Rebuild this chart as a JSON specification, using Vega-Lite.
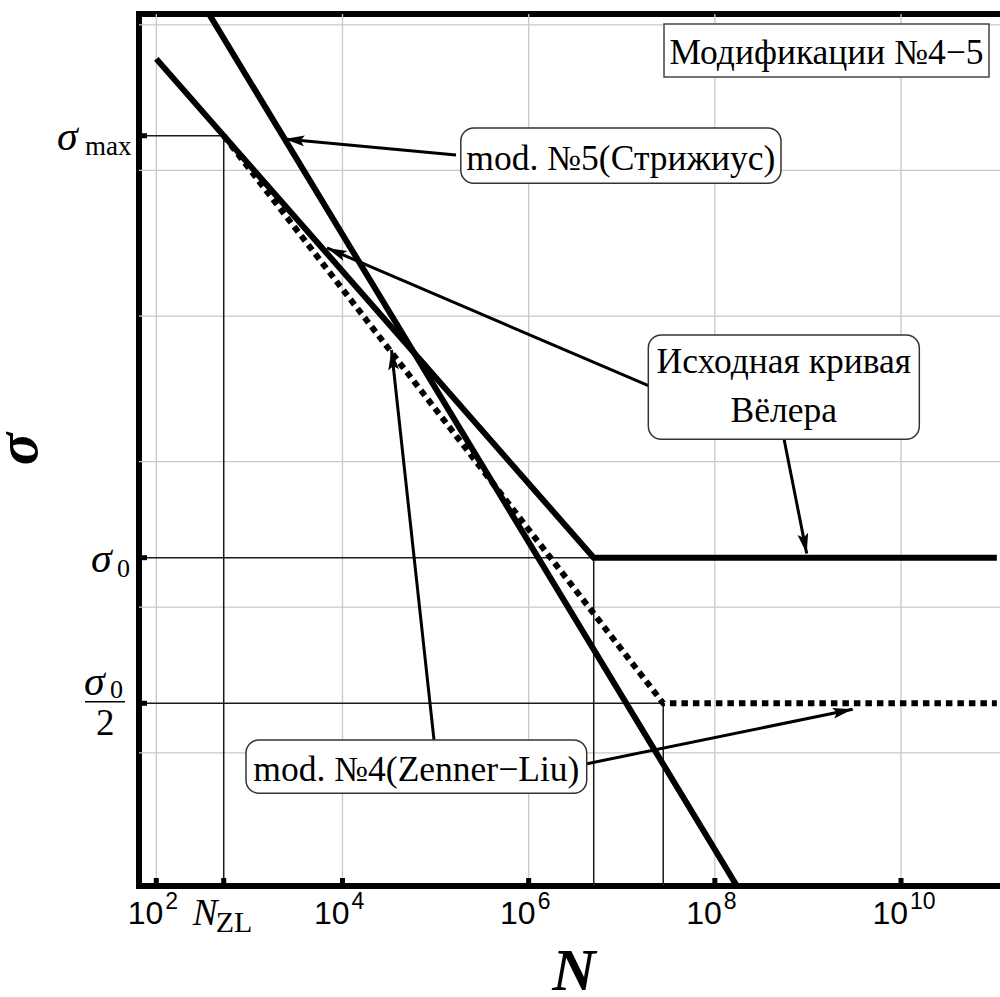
{
  "$schema": "https://vega.github.io/schema/vega-lite/v6.json",
  "width": 865,
  "height": 872,
  "autosize": {"type": "none"},
  "padding": {"left": 139, "top": 14, "right": 0, "bottom": 111},
  "background": "white",
  "config": {
    "view": {"stroke": "black", "strokeWidth": 6},
    "text": {"color": "black"}
  },
  "datasets": {
    "curves": [
      {"curve": "wohler", "order": 1, "N": 100, "sigma": 10.75},
      {"curve": "wohler", "order": 2, "N": 5000000, "sigma": 1},
      {"curve": "wohler", "order": 3, "N": 1.07e11, "sigma": 1},
      {"curve": "mod5", "order": 1, "N": 368, "sigma": 13.31},
      {"curve": "mod5", "order": 2, "N": 1.726e8, "sigma": 0.2095},
      {"curve": "zenner", "order": 1, "N": 530, "sigma": 7.455},
      {"curve": "zenner", "order": 2, "N": 2.79e7, "sigma": 0.5},
      {"curve": "zenner", "order": 3, "N": 1.07e11, "sigma": 0.5}
    ],
    "reflines": [
      {"N1": 65.19, "N2": 530, "s1": 7.455, "s2": 7.455},
      {"N1": 530, "N2": 530, "s1": 7.455, "s2": 0.2095},
      {"N1": 65.19, "N2": 5000000, "s1": 1, "s2": 1},
      {"N1": 5000000, "N2": 5000000, "s1": 1, "s2": 0.2095},
      {"N1": 65.19, "N2": 2.79e7, "s1": 0.5, "s2": 0.5},
      {"N1": 2.79e7, "N2": 2.79e7, "s1": 0.5, "s2": 0.2095}
    ],
    "xgrid": [{"N": 100}, {"N": 10000}, {"N": 1000000}, {"N": 100000000}, {"N": 10000000000}],
    "ygrid": [{"sigma": 0.395}, {"sigma": 0.79}, {"sigma": 1.58}, {"sigma": 3.16}, {"sigma": 6.32}, {"sigma": 12.64}],
    "xticks": [{"N": 100}, {"N": 530}, {"N": 10000}, {"N": 1000000}, {"N": 100000000}, {"N": 10000000000}],
    "yticks": [{"sigma": 0.5}, {"sigma": 1}, {"sigma": 7.455}],
    "titles": [
      {"axis": "x", "text": "N", "N": 3.069e6, "sigma": 0.2095},
      {"axis": "y", "text": "σ", "N": 65.19, "sigma": 1.678}
    ],
    "boxes": [
      {"id": "A", "text": "Модификации №4−5", "N1": 2.844e7, "N2": 8.81e10, "s1": 9.86, "s2": 12.69, "Nc": 1.583e9, "sc": 11.19},
      {"id": "B", "text": "mod. №5(Стрижиус)", "N1": 1.866e5, "N2": 5.136e8, "s1": 5.943, "s2": 7.739, "Nc": 9.79e6, "sc": 6.782},
      {"id": "C", "text": "Исходная кривая\nВёлера", "N1": 1.929e7, "N2": 1.572e10, "s1": 1.757, "s2": 2.887, "Nc": 5.505e8, "sc": 2.252},
      {"id": "D", "text": "mod. №4(Zenner−Liu)", "N1": 919.5, "N2": 4.203e6, "s1": 0.3258, "s2": 0.4199, "Nc": 6.217e4, "sc": 0.3698}
    ],
    "arrows": [
      {"id": "a1", "N1": 1.658e5, "s1": 6.801, "N2": 2383, "s2": 7.34},
      {"id": "a2", "N1": 1.962e7, "s1": 2.265, "N2": 6818, "s2": 4.369},
      {"id": "a3", "N1": 5.533e8, "s1": 1.76, "N2": 9.701e8, "s2": 1.02},
      {"id": "a4", "N1": 9.618e4, "s1": 0.4199, "N2": 3.361e4, "s2": 2.688},
      {"id": "a5", "N1": 4.233e6, "s1": 0.375, "N2": 3.027e9, "s2": 0.4859}
    ],
    "xlabels": [
      {"N": 100, "base": "10", "exp": "2"},
      {"N": 10000, "base": "10", "exp": "4"},
      {"N": 1000000, "base": "10", "exp": "6"},
      {"N": 100000000, "base": "10", "exp": "8"},
      {"N": 10000000000, "base": "10", "exp": "10"}
    ],
    "nzl": [{"N": 530, "sym": "N", "sub": "ZL"}],
    "ylabels": [
      {"key": "max", "sigma": 7.455, "sym": "σ", "sub": "max"},
      {"key": "zero", "sigma": 1, "sym": "σ", "sub": "0"},
      {"key": "half", "sigma": 0.5, "sym": "σ", "sub": "0", "den": "2"}
    ]
  },
  "layer": [
    {
      "data": {"name": "xgrid"},
      "mark": {"type": "rule", "color": "#c8c8c8", "strokeWidth": 1.3},
      "encoding": {
        "x": {"field": "N", "type": "quantitative", "scale": {"type": "log", "domain": [65.19, 1.277e11], "nice": false}, "axis": null}
      }
    },
    {
      "data": {"name": "ygrid"},
      "mark": {"type": "rule", "color": "#c8c8c8", "strokeWidth": 1.3},
      "encoding": {
        "y": {"field": "sigma", "type": "quantitative", "scale": {"type": "log", "domain": [0.2095, 13.31], "nice": false}, "axis": null}
      }
    },
    {
      "data": {"name": "reflines"},
      "mark": {"type": "rule", "color": "#1a1a1a", "strokeWidth": 1.5},
      "encoding": {
        "x": {"field": "N1", "type": "quantitative", "scale": {"type": "log", "domain": [65.19, 1.277e11], "nice": false}, "axis": null},
        "x2": {"field": "N2"},
        "y": {"field": "s1", "type": "quantitative", "scale": {"type": "log", "domain": [0.2095, 13.31], "nice": false}, "axis": null},
        "y2": {"field": "s2"}
      }
    },
    {
      "data": {"name": "curves"},
      "transform": [{"filter": "datum.curve === 'wohler'"}],
      "mark": {"type": "line", "color": "black", "strokeWidth": 6, "clip": true},
      "encoding": {
        "x": {"field": "N", "type": "quantitative", "scale": {"type": "log", "domain": [65.19, 1.277e11], "nice": false}, "axis": null},
        "y": {"field": "sigma", "type": "quantitative", "scale": {"type": "log", "domain": [0.2095, 13.31], "nice": false}, "axis": null},
        "order": {"field": "order"}
      }
    },
    {
      "data": {"name": "curves"},
      "transform": [{"filter": "datum.curve === 'mod5'"}],
      "mark": {"type": "line", "color": "black", "strokeWidth": 6, "clip": true},
      "encoding": {
        "x": {"field": "N", "type": "quantitative", "scale": {"type": "log", "domain": [65.19, 1.277e11], "nice": false}, "axis": null},
        "y": {"field": "sigma", "type": "quantitative", "scale": {"type": "log", "domain": [0.2095, 13.31], "nice": false}, "axis": null},
        "order": {"field": "order"}
      }
    },
    {
      "data": {"name": "curves"},
      "transform": [{"filter": "datum.curve === 'zenner'"}],
      "mark": {"type": "line", "color": "black", "strokeWidth": 6, "strokeDash": [6.5, 5], "clip": true},
      "encoding": {
        "x": {"field": "N", "type": "quantitative", "scale": {"type": "log", "domain": [65.19, 1.277e11], "nice": false}, "axis": null},
        "y": {"field": "sigma", "type": "quantitative", "scale": {"type": "log", "domain": [0.2095, 13.31], "nice": false}, "axis": null},
        "order": {"field": "order"}
      }
    },
    {
      "data": {"name": "xticks"},
      "mark": {"type": "rule", "color": "black", "strokeWidth": 5, "y2Offset": -8},
      "encoding": {
        "x": {"field": "N", "type": "quantitative", "scale": {"type": "log", "domain": [65.19, 1.277e11], "nice": false}, "axis": null},
        "y": {"datum": 0.2095, "type": "quantitative", "scale": {"type": "log", "domain": [0.2095, 13.31], "nice": false}, "axis": null},
        "y2": {"datum": 0.2095}
      }
    },
    {
      "data": {"name": "yticks"},
      "mark": {"type": "rule", "color": "black", "strokeWidth": 5, "x2Offset": 8},
      "encoding": {
        "x": {"datum": 65.19, "type": "quantitative", "scale": {"type": "log", "domain": [65.19, 1.277e11], "nice": false}, "axis": null},
        "x2": {"datum": 65.19},
        "y": {"field": "sigma", "type": "quantitative", "scale": {"type": "log", "domain": [0.2095, 13.31], "nice": false}, "axis": null}
      }
    },
    {
      "data": {"name": "arrows"},
      "mark": {"type": "rule", "color": "black", "strokeWidth": 3},
      "encoding": {
        "x": {"field": "N1", "type": "quantitative", "scale": {"type": "log", "domain": [65.19, 1.277e11], "nice": false}, "axis": null},
        "x2": {"field": "N2"},
        "y": {"field": "s1", "type": "quantitative", "scale": {"type": "log", "domain": [0.2095, 13.31], "nice": false}, "axis": null},
        "y2": {"field": "s2"}
      }
    },
    {
      "data": {"name": "boxes"},
      "transform": [{"filter": "datum.id === 'A'"}],
      "mark": {"type": "rect", "fill": "white", "stroke": "#444444", "strokeWidth": 1.5},
      "encoding": {
        "x": {"field": "N1", "type": "quantitative", "scale": {"type": "log", "domain": [65.19, 1.277e11], "nice": false}, "axis": null},
        "x2": {"field": "N2"},
        "y": {"field": "s1", "type": "quantitative", "scale": {"type": "log", "domain": [0.2095, 13.31], "nice": false}, "axis": null},
        "y2": {"field": "s2"}
      }
    },
    {
      "data": {"name": "boxes"},
      "transform": [{"filter": "datum.id !== 'A'"}],
      "mark": {"type": "rect", "fill": "white", "stroke": "#333333", "strokeWidth": 1.5, "cornerRadius": 13},
      "encoding": {
        "x": {"field": "N1", "type": "quantitative", "scale": {"type": "log", "domain": [65.19, 1.277e11], "nice": false}, "axis": null},
        "x2": {"field": "N2"},
        "y": {"field": "s1", "type": "quantitative", "scale": {"type": "log", "domain": [0.2095, 13.31], "nice": false}, "axis": null},
        "y2": {"field": "s2"}
      }
    },
    {
      "data": {"name": "boxes"},
      "transform": [{"filter": "datum.id !== 'C'"}],
      "mark": {"type": "text", "font": "Liberation Serif", "fontSize": 35.5, "align": "center", "baseline": "middle", "dy": 3, "color": "black"},
      "encoding": {
        "x": {"field": "Nc", "type": "quantitative", "scale": {"type": "log", "domain": [65.19, 1.277e11], "nice": false}, "axis": null},
        "y": {"field": "sc", "type": "quantitative", "scale": {"type": "log", "domain": [0.2095, 13.31], "nice": false}, "axis": null},
        "text": {"field": "text", "type": "nominal"}
      }
    },
    {
      "data": {"name": "boxes"},
      "transform": [{"filter": "datum.id === 'C'"}],
      "mark": {"type": "text", "font": "Liberation Serif", "fontSize": 35.5, "align": "center", "baseline": "alphabetic", "dy": -14, "lineBreak": "\n", "lineHeight": 48.7, "color": "black"},
      "encoding": {
        "x": {"field": "Nc", "type": "quantitative", "scale": {"type": "log", "domain": [65.19, 1.277e11], "nice": false}, "axis": null},
        "y": {"field": "sc", "type": "quantitative", "scale": {"type": "log", "domain": [0.2095, 13.31], "nice": false}, "axis": null},
        "text": {"field": "text", "type": "nominal"}
      }
    },
    {
      "data": {"name": "arrows"},
      "transform": [{"filter": "datum.id === 'a1'"}],
      "mark": {"type": "point", "shape": "M0,0L0.27,1L0,0.8L-0.27,1Z", "size": 1600, "filled": true, "color": "black", "opacity": 1, "strokeWidth": 0, "angle": -84.67},
      "encoding": {
        "x": {"field": "N2", "type": "quantitative", "scale": {"type": "log", "domain": [65.19, 1.277e11], "nice": false}, "axis": null},
        "y": {"field": "s2", "type": "quantitative", "scale": {"type": "log", "domain": [0.2095, 13.31], "nice": false}, "axis": null}
      }
    },
    {
      "data": {"name": "arrows"},
      "transform": [{"filter": "datum.id === 'a2'"}],
      "mark": {"type": "point", "shape": "M0,0L0.27,1L0,0.8L-0.27,1Z", "size": 1600, "filled": true, "color": "black", "opacity": 1, "strokeWidth": 0, "angle": -66.8},
      "encoding": {
        "x": {"field": "N2", "type": "quantitative", "scale": {"type": "log", "domain": [65.19, 1.277e11], "nice": false}, "axis": null},
        "y": {"field": "s2", "type": "quantitative", "scale": {"type": "log", "domain": [0.2095, 13.31], "nice": false}, "axis": null}
      }
    },
    {
      "data": {"name": "arrows"},
      "transform": [{"filter": "datum.id === 'a3'"}],
      "mark": {"type": "point", "shape": "M0,0L0.27,1L0,0.8L-0.27,1Z", "size": 1600, "filled": true, "color": "black", "opacity": 1, "strokeWidth": 0, "angle": 168.8},
      "encoding": {
        "x": {"field": "N2", "type": "quantitative", "scale": {"type": "log", "domain": [65.19, 1.277e11], "nice": false}, "axis": null},
        "y": {"field": "s2", "type": "quantitative", "scale": {"type": "log", "domain": [0.2095, 13.31], "nice": false}, "axis": null}
      }
    },
    {
      "data": {"name": "arrows"},
      "transform": [{"filter": "datum.id === 'a4'"}],
      "mark": {"type": "point", "shape": "M0,0L0.27,1L0,0.8L-0.27,1Z", "size": 1600, "filled": true, "color": "black", "opacity": 1, "strokeWidth": 0, "angle": -6.22},
      "encoding": {
        "x": {"field": "N2", "type": "quantitative", "scale": {"type": "log", "domain": [65.19, 1.277e11], "nice": false}, "axis": null},
        "y": {"field": "s2", "type": "quantitative", "scale": {"type": "log", "domain": [0.2095, 13.31], "nice": false}, "axis": null}
      }
    },
    {
      "data": {"name": "arrows"},
      "transform": [{"filter": "datum.id === 'a5'"}],
      "mark": {"type": "point", "shape": "M0,0L0.27,1L0,0.8L-0.27,1Z", "size": 1600, "filled": true, "color": "black", "opacity": 1, "strokeWidth": 0, "angle": 78.43},
      "encoding": {
        "x": {"field": "N2", "type": "quantitative", "scale": {"type": "log", "domain": [65.19, 1.277e11], "nice": false}, "axis": null},
        "y": {"field": "s2", "type": "quantitative", "scale": {"type": "log", "domain": [0.2095, 13.31], "nice": false}, "axis": null}
      }
    },
    {
      "data": {"name": "titles"},
      "transform": [{"filter": "datum.axis === 'x'"}],
      "mark": {"type": "text", "font": "Liberation Serif", "fontSize": 60, "fontWeight": "bold", "fontStyle": "italic", "align": "center", "baseline": "alphabetic", "yOffset": 104, "color": "black"},
      "encoding": {
        "x": {"field": "N", "type": "quantitative", "scale": {"type": "log", "domain": [65.19, 1.277e11], "nice": false}, "axis": null},
        "y": {"field": "sigma", "type": "quantitative", "scale": {"type": "log", "domain": [0.2095, 13.31], "nice": false}, "axis": null},
        "text": {"field": "text", "type": "nominal"}
      }
    },
    {
      "data": {"name": "titles"},
      "transform": [{"filter": "datum.axis === 'y'"}],
      "mark": {"type": "text", "font": "Liberation Serif", "fontSize": 60, "fontWeight": "bold", "fontStyle": "italic", "align": "center", "baseline": "middle", "angle": -90, "xOffset": -120, "color": "black"},
      "encoding": {
        "x": {"field": "N", "type": "quantitative", "scale": {"type": "log", "domain": [65.19, 1.277e11], "nice": false}, "axis": null},
        "y": {"field": "sigma", "type": "quantitative", "scale": {"type": "log", "domain": [0.2095, 13.31], "nice": false}, "axis": null},
        "text": {"field": "text", "type": "nominal"}
      }
    },
    {
      "data": {"name": "xlabels"},
      "mark": {"type": "text", "font": "Liberation Sans", "fontSize": 32, "align": "right", "baseline": "alphabetic", "dx": 7, "dy": 38, "color": "black"},
      "encoding": {
        "x": {"field": "N", "type": "quantitative", "scale": {"type": "log", "domain": [65.19, 1.277e11], "nice": false}, "axis": null},
        "y": {"datum": 0.2095, "type": "quantitative", "scale": {"type": "log", "domain": [0.2095, 13.31], "nice": false}, "axis": null},
        "text": {"field": "base", "type": "nominal"}
      }
    },
    {
      "data": {"name": "xlabels"},
      "mark": {"type": "text", "font": "Liberation Sans", "fontSize": 23, "align": "left", "baseline": "alphabetic", "dx": 9, "dy": 23, "color": "black"},
      "encoding": {
        "x": {"field": "N", "type": "quantitative", "scale": {"type": "log", "domain": [65.19, 1.277e11], "nice": false}, "axis": null},
        "y": {"datum": 0.2095, "type": "quantitative", "scale": {"type": "log", "domain": [0.2095, 13.31], "nice": false}, "axis": null},
        "text": {"field": "exp", "type": "nominal"}
      }
    },
    {
      "data": {"name": "nzl"},
      "mark": {"type": "text", "font": "Liberation Serif", "fontSize": 37, "fontStyle": "italic", "align": "left", "baseline": "alphabetic", "dx": -31, "dy": 39, "color": "black"},
      "encoding": {
        "x": {"field": "N", "type": "quantitative", "scale": {"type": "log", "domain": [65.19, 1.277e11], "nice": false}, "axis": null},
        "y": {"datum": 0.2095, "type": "quantitative", "scale": {"type": "log", "domain": [0.2095, 13.31], "nice": false}, "axis": null},
        "text": {"field": "sym", "type": "nominal"}
      }
    },
    {
      "data": {"name": "nzl"},
      "mark": {"type": "text", "font": "Liberation Serif", "fontSize": 30, "align": "left", "baseline": "alphabetic", "dx": -8, "dy": 46, "color": "black"},
      "encoding": {
        "x": {"field": "N", "type": "quantitative", "scale": {"type": "log", "domain": [65.19, 1.277e11], "nice": false}, "axis": null},
        "y": {"datum": 0.2095, "type": "quantitative", "scale": {"type": "log", "domain": [0.2095, 13.31], "nice": false}, "axis": null},
        "text": {"field": "sub", "type": "nominal"}
      }
    },
    {
      "data": {"name": "ylabels"},
      "transform": [{"filter": "datum.key === 'max'"}],
      "mark": {"type": "text", "font": "Liberation Serif", "fontSize": 42, "fontStyle": "italic", "align": "left", "baseline": "alphabetic", "dx": -82, "dy": 14, "color": "black"},
      "encoding": {
        "x": {"datum": 65.19, "type": "quantitative", "scale": {"type": "log", "domain": [65.19, 1.277e11], "nice": false}, "axis": null},
        "y": {"field": "sigma", "type": "quantitative", "scale": {"type": "log", "domain": [0.2095, 13.31], "nice": false}, "axis": null},
        "text": {"field": "sym", "type": "nominal"}
      }
    },
    {
      "data": {"name": "ylabels"},
      "transform": [{"filter": "datum.key === 'max'"}],
      "mark": {"type": "text", "font": "Liberation Serif", "fontSize": 27, "align": "left", "baseline": "alphabetic", "dx": -54, "dy": 19, "color": "black"},
      "encoding": {
        "x": {"datum": 65.19, "type": "quantitative", "scale": {"type": "log", "domain": [65.19, 1.277e11], "nice": false}, "axis": null},
        "y": {"field": "sigma", "type": "quantitative", "scale": {"type": "log", "domain": [0.2095, 13.31], "nice": false}, "axis": null},
        "text": {"field": "sub", "type": "nominal"}
      }
    },
    {
      "data": {"name": "ylabels"},
      "transform": [{"filter": "datum.key === 'zero'"}],
      "mark": {"type": "text", "font": "Liberation Serif", "fontSize": 42, "fontStyle": "italic", "align": "left", "baseline": "alphabetic", "dx": -48, "dy": 14, "color": "black"},
      "encoding": {
        "x": {"datum": 65.19, "type": "quantitative", "scale": {"type": "log", "domain": [65.19, 1.277e11], "nice": false}, "axis": null},
        "y": {"field": "sigma", "type": "quantitative", "scale": {"type": "log", "domain": [0.2095, 13.31], "nice": false}, "axis": null},
        "text": {"field": "sym", "type": "nominal"}
      }
    },
    {
      "data": {"name": "ylabels"},
      "transform": [{"filter": "datum.key === 'zero'"}],
      "mark": {"type": "text", "font": "Liberation Serif", "fontSize": 26, "align": "left", "baseline": "alphabetic", "dx": -22, "dy": 19, "color": "black"},
      "encoding": {
        "x": {"datum": 65.19, "type": "quantitative", "scale": {"type": "log", "domain": [65.19, 1.277e11], "nice": false}, "axis": null},
        "y": {"field": "sigma", "type": "quantitative", "scale": {"type": "log", "domain": [0.2095, 13.31], "nice": false}, "axis": null},
        "text": {"field": "sub", "type": "nominal"}
      }
    },
    {
      "data": {"name": "ylabels"},
      "transform": [{"filter": "datum.key === 'half'"}],
      "mark": {"type": "text", "font": "Liberation Serif", "fontSize": 42, "fontStyle": "italic", "align": "left", "baseline": "alphabetic", "dx": -55, "dy": -8, "color": "black"},
      "encoding": {
        "x": {"datum": 65.19, "type": "quantitative", "scale": {"type": "log", "domain": [65.19, 1.277e11], "nice": false}, "axis": null},
        "y": {"field": "sigma", "type": "quantitative", "scale": {"type": "log", "domain": [0.2095, 13.31], "nice": false}, "axis": null},
        "text": {"field": "sym", "type": "nominal"}
      }
    },
    {
      "data": {"name": "ylabels"},
      "transform": [{"filter": "datum.key === 'half'"}],
      "mark": {"type": "text", "font": "Liberation Serif", "fontSize": 26, "align": "left", "baseline": "alphabetic", "dx": -29, "dy": -5, "color": "black"},
      "encoding": {
        "x": {"datum": 65.19, "type": "quantitative", "scale": {"type": "log", "domain": [65.19, 1.277e11], "nice": false}, "axis": null},
        "y": {"field": "sigma", "type": "quantitative", "scale": {"type": "log", "domain": [0.2095, 13.31], "nice": false}, "axis": null},
        "text": {"field": "sub", "type": "nominal"}
      }
    },
    {
      "data": {"name": "ylabels"},
      "transform": [{"filter": "datum.key === 'half'"}],
      "mark": {"type": "rule", "color": "black", "strokeWidth": 1.5, "xOffset": -54, "x2Offset": -14, "yOffset": -1.6},
      "encoding": {
        "x": {"datum": 65.19, "type": "quantitative", "scale": {"type": "log", "domain": [65.19, 1.277e11], "nice": false}, "axis": null},
        "x2": {"datum": 65.19},
        "y": {"field": "sigma", "type": "quantitative", "scale": {"type": "log", "domain": [0.2095, 13.31], "nice": false}, "axis": null}
      }
    },
    {
      "data": {"name": "ylabels"},
      "transform": [{"filter": "datum.key === 'half'"}],
      "mark": {"type": "text", "font": "Liberation Serif", "fontSize": 37, "align": "left", "baseline": "alphabetic", "dx": -43, "dy": 32, "color": "black"},
      "encoding": {
        "x": {"datum": 65.19, "type": "quantitative", "scale": {"type": "log", "domain": [65.19, 1.277e11], "nice": false}, "axis": null},
        "y": {"field": "sigma", "type": "quantitative", "scale": {"type": "log", "domain": [0.2095, 13.31], "nice": false}, "axis": null},
        "text": {"field": "den", "type": "nominal"}
      }
    }
  ]
}
